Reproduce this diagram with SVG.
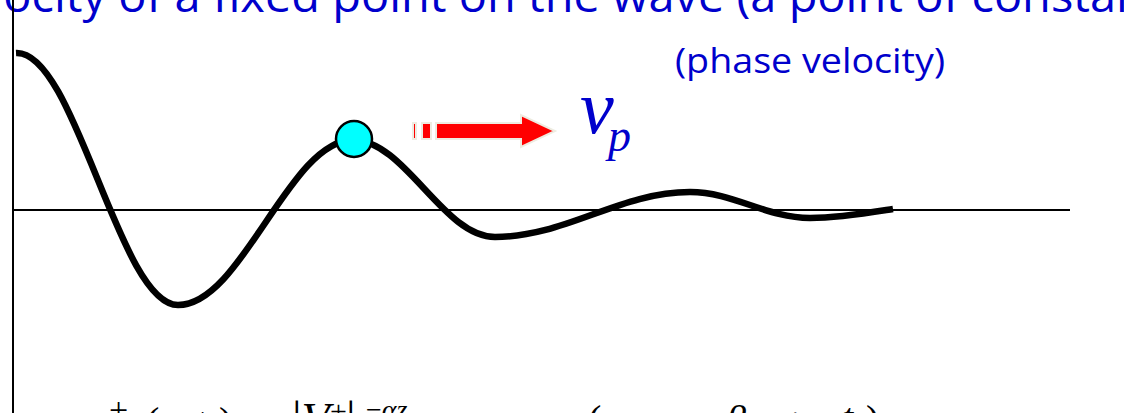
<svg xmlns="http://www.w3.org/2000/svg" width="1124" height="413" viewBox="0 0 1124 413">
  <style>
    .blue { fill: #0000CC; }
    .title { font-family: "Open Sans", "Liberation Sans", sans-serif; font-size: 46px; }
    .sub { font-family: "Open Sans", "Liberation Sans", sans-serif; font-size: 34px; }
    .math { font-family: "Liberation Serif", serif; }
    .axis { stroke: #000; stroke-width: 2; fill: none; }
    .wave { stroke: #000; stroke-width: 6.5; fill: none; stroke-linecap: butt; stroke-linejoin: round; }
    .arrowpart { fill: #FF0000; stroke: #EEECE1; stroke-width: 2; }
  </style>
  <rect width="1124" height="413" fill="#FFFFFF"/>

  <g id="title-text">
    <text class="title blue" x="-63" y="12" textLength="1383" lengthAdjust="spacingAndGlyphs">Velocity of a fixed point on the wave (a point of constant phase)</text>
  </g>

  <g id="axes">
    <line class="axis" x1="13" y1="0" x2="13" y2="413"/>
    <line class="axis" x1="13" y1="210" x2="1070" y2="210"/>
  </g>

  <g id="wave">
    <path class="wave" d="M16,53 C75,50 119,305 178,305 C242,305 289,140 353,140 C405,140 443,237 495,237 C566,237 619,192 690,192 C734,192 766,218 810,218 C840,218 868,213 893,209"/>
  </g>

  <g id="phase-point">
    <circle cx="354" cy="139" r="18" fill="#00FFFF" stroke="#000" stroke-width="2.5"/>
  </g>

  <g id="velocity-arrow">
    <rect class="arrowpart" x="413" y="123" width="3" height="16"/>
    <rect class="arrowpart" x="422" y="123" width="9" height="16"/>
    <path class="arrowpart" d="M436,123 L521,123 L521,115 L555,131 L521,147 L521,139 L436,139 Z"/>
  </g>

  <g id="labels">
    <text class="math blue" x="580" y="133" font-size="76" font-style="italic">v</text>
    <text class="math blue" x="608" y="151" font-size="46" font-style="italic">p</text>
    <text class="sub blue" x="675" y="73" textLength="270" lengthAdjust="spacingAndGlyphs">(phase velocity)</text>
  </g>

  <g id="equation">
    <text class="math" y="435" font-size="40" fill="#000"><tspan x="90" font-style="italic">v</tspan><tspan x="109" y="421" font-size="34">+</tspan><tspan x="146" y="435">(</tspan><tspan font-style="italic">z</tspan><tspan>, </tspan><tspan font-style="italic">t</tspan><tspan x="219">)</tspan><tspan x="248">=</tspan><tspan x="292" font-size="48">|</tspan><tspan font-style="italic" font-size="46">V</tspan><tspan x="330" y="421" font-size="30">+</tspan><tspan x="346" y="435" font-size="48">|</tspan><tspan x="355">e</tspan><tspan x="366" y="419" font-size="28">−</tspan><tspan font-size="28" font-style="italic">αz</tspan><tspan x="520" y="435">cos</tspan><tspan x="588" y="433">(</tspan><tspan x="604" y="435" font-style="italic">ω</tspan><tspan x="660">−</tspan><tspan x="726" y="433" font-style="italic">β</tspan><tspan y="435" font-style="italic">z</tspan><tspan x="784">+</tspan><tspan x="812" font-style="italic">ω</tspan><tspan x="842" y="431" font-style="italic">t</tspan><tspan x="866" y="433">)</tspan></text>
  </g>
</svg>
